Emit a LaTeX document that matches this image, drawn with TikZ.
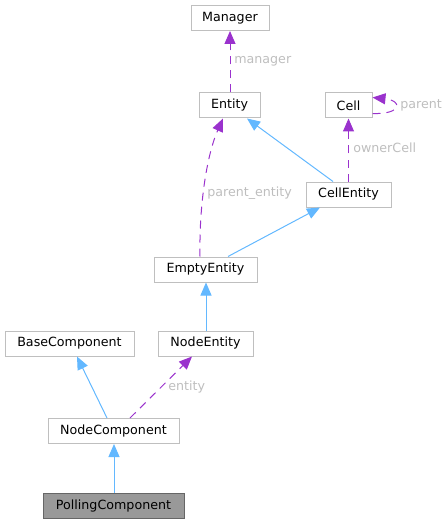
\documentclass[tikz,border=0pt]{standalone}
\usepackage{fontspec}
\setmainfont{DejaVu Sans}
\usetikzlibrary{arrows.meta,calc}
\definecolor{boxgray}{HTML}{BFBFBF}
\definecolor{inhblue}{HTML}{63B8FF}
\definecolor{usepurple}{HTML}{9A32CD}
\definecolor{lblgray}{HTML}{BEBEBE}
\begin{document}
\begin{tikzpicture}[x=0.75pt, y=-0.75pt,
	font=\fontsize{9.5}{11}\selectfont,
	box/.style={draw=boxgray, line width=0.75pt, fill=white, minimum height=18.75pt, inner sep=0pt},
	current/.style={box, draw=black!60, fill=black!40},
	inh/.style={draw=inhblue, line width=0.75pt, -{Triangle[length=9.75pt, width=8.25pt]}},
	usage/.style={draw=usepurple, line width=0.75pt, dash pattern=on 6pt off 4.5pt, -{Triangle[length=9.75pt, width=8.25pt]}},
	lbl/.style={text=lblgray, inner sep=0pt, anchor=west}]
		\useasboundingbox (0,0) rectangle (448,524);
		% Clases
			\node[box, minimum width=58.5pt] (manager) at (230,18) {Manager};
			\node[box, minimum width=45.75pt] (entity) at (229.5,105.5) {Entity};
			\node[box, minimum width=35.25pt] (cell) at (348.5,105.5) {Cell};
			\node[box, minimum width=63.75pt] (cellentity) at (348.5,194.5) {CellEntity};
			\node[box, minimum width=77.25pt] (emptyentity) at (205.5,269.5) {EmptyEntity};
			\node[box, minimum width=71.25pt] (nodeentity) at (205.5,343.5) {NodeEntity};
			\node[box, minimum width=96.75pt] (basecomp) at (69.5,343.5) {BaseComponent};
			\node[box, minimum width=98.25pt] (nodecomp) at (113.5,431) {NodeComponent};
			\node[current, minimum width=105.75pt] (pollingcomp) at (113.5,505.5) {PollingComponent};
		% Herencia
			\draw[inh] ($(cellentity.north)+(-15.5,0)$) -- ($(entity.south)+(17.5,0)$);
			\draw[inh] ($(emptyentity.north)+(22.5,0)$) -- ($(cellentity.south)+(-28.5,0)$);
			\draw[inh] ($(nodeentity.north)+(0.5,0)$) -- ($(emptyentity.south)+(0.5,0)$);
			\draw[inh] ($(nodecomp.north)+(-6.5,0)$) -- ($(basecomp.south)+(7.5,0)$);
			\draw[inh] ($(pollingcomp.north)+(0.5,0)$) -- ($(nodecomp.south)+(0.5,0)$);
		% Uso
			\draw[usage] ($(entity.north)+(0.5,0)$) -- (manager.south);
			\draw[usage] ($(cell.east)+(0,8)$) .. controls +(30,1) and +(30,3) .. ($(cell.east)+(0,-8)$);
			\draw[usage] (cellentity.north) -- (cell.south);
			\draw[usage] ($(emptyentity.north)+(-5.5,0)$) .. controls (199,200) and (208,152) .. ($(entity.south)+(-6.5,0)$);
			\draw[usage] ($(nodecomp.north)+(16.5,0)$) -- ($(nodeentity.south)+(-13.5,0)$);
		% Etiquetas
			\node[lbl] (lmanager) at (234,61) {manager};
			\node[lbl] (lparent) at (400,105) {parent};
			\node[lbl] (lownercell) at (353,148) {ownerCell};
			\node[lbl] (lparententity) at (207,193) {parent\_entity};
			\node[lbl] (lentity) at (168,387) {entity};
\end{tikzpicture}
\end{document}
